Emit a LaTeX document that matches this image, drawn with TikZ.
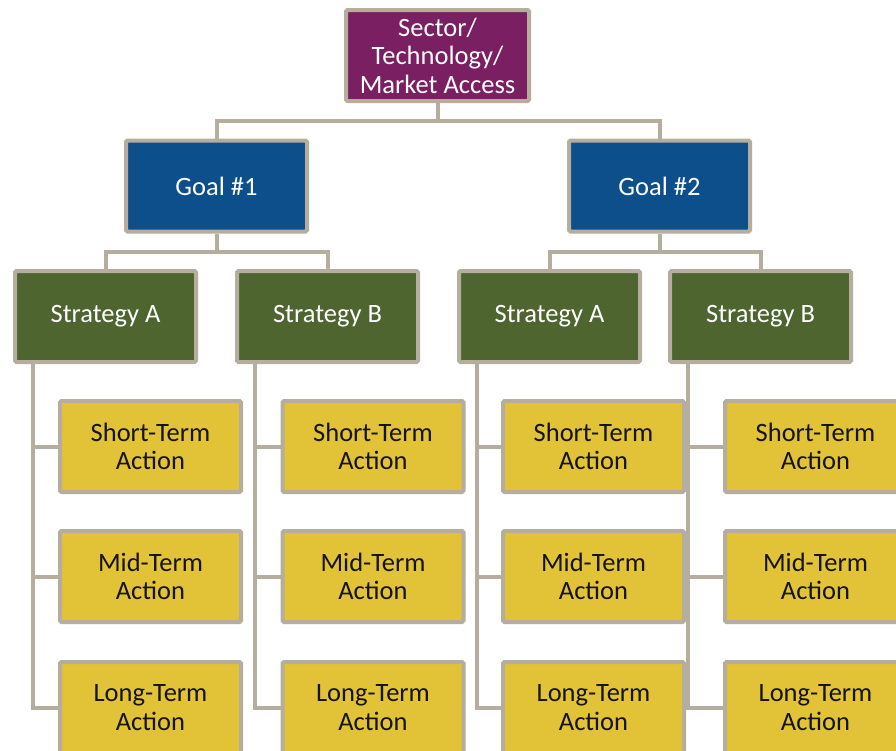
\documentclass[tikz,border=0pt]{standalone}
\usepackage{fontspec}
\setmainfont{Carlito}
\usetikzlibrary{backgrounds}
\definecolor{lineC}{RGB}{181,174,159}
\definecolor{purp}{RGB}{122,31,98}
\definecolor{blu}{RGB}{13,79,139}
\definecolor{grn}{RGB}{78,101,48}
\definecolor{yel}{RGB}{226,194,54}
\definecolor{txt}{RGB}{20,20,20}
\tikzset{
  box/.style={draw=lineC, line width=4pt, rounded corners=1.5pt, minimum width=181pt,
    minimum height=91pt, inner sep=0pt, align=center, font=\fontsize{26.5}{28.5}\selectfont},
  topbox/.style={box, fill=purp, text=white, minimum width=183pt},
  goalbox/.style={box, fill=blu, text=white},
  stratbox/.style={box, fill=grn, text=white},
  actbox/.style={box, fill=yel, text=txt},
  conn/.style={draw=lineC, line width=4pt}
}
\begin{document}
\begin{tikzpicture}[x=1pt,y=-1pt]
\useasboundingbox (0,0) rectangle (896,750);
\clip (0,0) rectangle (896,750);
% nodes
\node[topbox] (top) at (437.5,55.5) {Sector/\\Technology/\\Market Access};
\node[goalbox] (g1) at (216.5,186) {Goal \#1};
\node[goalbox] (g2) at (659.5,186) {Goal \#2};
\node[stratbox] (sa1) at (105.5,316.5) {Strategy A};
\node[stratbox] (sb1) at (327.5,316.5) {Strategy B};
\node[stratbox] (sa2) at (549.5,316.5) {Strategy A};
\node[stratbox] (sb2) at (760.5,316.5) {Strategy B};
\foreach \c/\x in {1/150.5,2/373,3/593.5,4/815.5}{
  \node[actbox] (s\c) at (\x,446.5) {Short-Term\\Action};
  \node[actbox] (m\c) at (\x,576.5) {Mid-Term\\Action};
  \node[actbox] (l\c) at (\x,707.5) {Long-Term\\Action};
}
\coordinate (h0) at (0,121);
\coordinate (h1) at (0,252);
\coordinate (t1) at ([xshift=20pt]sa1.south west);
\coordinate (t2) at ([xshift=20pt]sb1.south west);
\coordinate (t3) at ([xshift=20pt]sa2.south west);
\coordinate (t4) at ([xshift=20pt]sb2.south west);
% connectors (behind boxes)
\begin{scope}[on background layer]
\fill[white] (0,0) rectangle (896,750);
\draw[conn] (top.south) -- (top.south |- h0) -| (g1.north);
\draw[conn] (top.south |- h0) -| (g2.north);
\draw[conn] (g1.south) -- (g1.south |- h1) -| (sa1.north);
\draw[conn] (g1.south |- h1) -| (sb1.north);
\draw[conn] (g2.south) -- (g2.south |- h1) -| (sa2.north);
\draw[conn] (g2.south |- h1) -| (sb2.north);
\foreach \c in {1,2,3,4}{
  \draw[conn] (t\c) |- (l\c.west);
  \draw[conn] (t\c |- s\c.west) -- (s\c.west);
  \draw[conn] (t\c |- m\c.west) -- (m\c.west);
}
\end{scope}
\end{tikzpicture}
\end{document}
